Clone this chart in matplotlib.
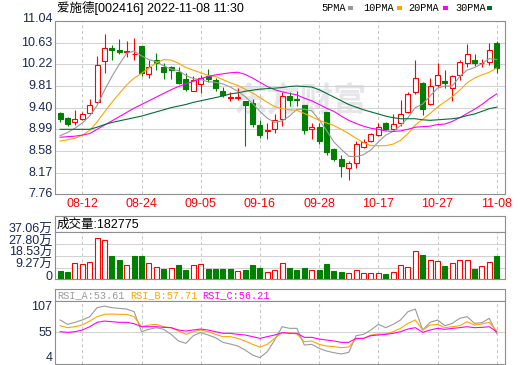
import matplotlib
matplotlib.use("Agg")
import matplotlib.pyplot as plt
import matplotlib.transforms as mtransforms
from matplotlib.patches import Rectangle
import numpy as np

plt.rcParams['font.family'] = ['Liberation Sans', 'Noto Sans CJK SC', 'DejaVu Sans']

# ---------------- data ----------------
title_text = '爱施德[002416] 2022-11-08 11:30'
vol_title = '成交量:182775'

dates = ['08-09', '08-10', '08-11', '08-12', '08-15', '08-16', '08-17', '08-18', '08-19', '08-22',
         '08-23', '08-24', '08-25', '08-26', '08-29', '08-30', '08-31', '09-01', '09-02', '09-05',
         '09-06', '09-07', '09-08', '09-09', '09-13', '09-14', '09-15', '09-16', '09-19', '09-20',
         '09-21', '09-22', '09-23', '09-26', '09-27', '09-28', '09-29', '09-30', '10-10', '10-11',
         '10-12', '10-13', '10-14', '10-17', '10-18', '10-19', '10-20', '10-21', '10-24', '10-25',
         '10-26', '10-27', '10-28', '10-31', '11-01', '11-02', '11-03', '11-04', '11-07', '11-08']
tick_dates = ['08-12', '08-24', '09-05', '09-16', '09-28', '10-17', '10-27', '11-08']

opens = [9.30, 9.20, 9.13, 9.19, 9.30, 9.50, 10.29, 10.52, 10.49, 10.455,
         10.42, 10.56, 10.04, 10.30, 10.17, 10.17, 10.08, 9.95, 9.72, 9.84,
         10.00, 9.92, 9.72, 9.585, 9.59, 9.52, 9.48, 9.08, 8.96, 9.00,
         9.18, 9.62, 9.56, 9.45, 9.00, 9.03, 9.31, 8.61, 8.42, 8.26,
         8.35, 8.65, 8.76, 8.89, 9.11, 9.00, 9.11, 9.32, 9.69, 9.86,
         9.47, 9.82, 9.90, 9.78, 10.01, 10.25, 10.31, 10.24, 10.27, 10.62]
highs = [9.31, 9.22, 9.36, 9.31, 9.57, 10.37, 10.80, 10.58, 10.70, 10.67,
         10.72, 10.56, 10.30, 10.44, 10.24, 10.19, 10.17, 10.05, 10.00, 10.02,
         10.14, 9.97, 9.80, 9.70, 9.77, 9.52, 9.56, 9.17, 9.11, 9.28,
         9.70, 9.70, 9.72, 9.45, 9.11, 9.11, 9.31, 8.64, 8.51, 8.39,
         8.76, 8.81, 8.92, 9.11, 9.13, 9.28, 9.55, 9.70, 10.30, 9.89,
         9.97, 10.25, 10.12, 10.02, 10.30, 10.60, 10.42, 10.32, 10.63, 10.67]
lows = [9.12, 9.06, 9.08, 9.17, 9.28, 9.48, 10.06, 10.31, 10.42, 10.35,
        10.30, 9.99, 9.97, 10.12, 9.95, 9.95, 9.85, 9.72, 9.71, 9.67,
        9.89, 9.72, 9.60, 9.53, 9.55, 8.67, 9.03, 8.83, 8.80, 8.92,
        9.06, 9.43, 9.43, 8.91, 8.80, 8.72, 8.51, 8.39, 8.095, 8.04,
        8.26, 8.64, 8.75, 8.86, 8.98, 8.97, 9.06, 9.30, 9.66, 9.27,
        9.45, 9.79, 9.77, 9.52, 9.93, 10.16, 10.19, 10.17, 10.20, 10.06]
closes = [9.19, 9.10, 9.18, 9.28, 9.45, 10.20, 10.52, 10.49, 10.45, 10.47,
          10.42, 10.05, 10.17, 10.25, 10.08, 10.12, 9.87, 9.75, 9.93, 9.97,
          9.95, 9.78, 9.63, 9.60, 9.61, 9.45, 9.10, 8.89, 8.97, 9.17,
          9.62, 9.55, 9.54, 8.97, 9.03, 8.76, 8.56, 8.42, 8.30, 8.35,
          8.72, 8.75, 8.90, 9.03, 8.99, 9.09, 9.28, 9.66, 9.97, 9.37,
          9.81, 10.02, 9.86, 10.00, 10.26, 10.42, 10.24, 10.25, 10.49, 10.15]

ma5 = [8.87, 8.93, 9.01, 9.11, 9.24, 9.44, 9.73, 9.99, 10.22, 10.43,
       10.47, 10.38, 10.31, 10.27, 10.19, 10.13, 10.10, 10.01, 9.95, 9.93,
       9.89, 9.88, 9.85, 9.79, 9.71, 9.61, 9.48, 9.33, 9.20, 9.12,
       9.15, 9.24, 9.37, 9.37, 9.34, 9.17, 8.97, 8.75, 8.61, 8.48,
       8.47, 8.51, 8.60, 8.75, 8.88, 8.95, 9.06, 9.21, 9.40, 9.47,
       9.62, 9.77, 9.81, 9.81, 9.99, 10.11, 10.16, 10.23, 10.33, 10.31]
ma10 = [8.77, 8.79, 8.82, 8.88, 8.97, 9.13, 9.32, 9.50, 9.67, 9.83,
        9.96, 10.05, 10.15, 10.25, 10.31, 10.30, 10.24, 10.16, 10.11, 10.06,
        10.01, 9.99, 9.93, 9.87, 9.82, 9.75, 9.68, 9.59, 9.50, 9.42,
        9.38, 9.36, 9.35, 9.29, 9.23, 9.16, 9.11, 9.06, 8.99, 8.91,
        8.82, 8.74, 8.68, 8.68, 8.68, 8.71, 8.78, 8.91, 9.07, 9.18,
        9.29, 9.41, 9.51, 9.61, 9.73, 9.87, 9.96, 10.02, 10.07, 10.15]
ma20 = [8.84, 8.85, 8.86, 8.88, 8.91, 8.99, 9.07, 9.15, 9.23, 9.31,
        9.39, 9.46, 9.53, 9.60, 9.67, 9.74, 9.80, 9.85, 9.90, 9.95,
        9.99, 10.02, 10.04, 10.06, 10.07, 10.03, 9.96, 9.88, 9.80, 9.74,
        9.70, 9.67, 9.64, 9.58, 9.53, 9.46, 9.39, 9.33, 9.24, 9.16,
        9.10, 9.05, 9.01, 8.99, 8.96, 8.95, 8.96, 8.99, 9.03, 9.04,
        9.05, 9.08, 9.09, 9.14, 9.21, 9.29, 9.37, 9.46, 9.57, 9.66]
ma30 = [8.99, 8.99, 8.99, 8.99, 8.99, 9.03, 9.08, 9.12, 9.15, 9.18,
        9.21, 9.24, 9.28, 9.32, 9.36, 9.40, 9.43, 9.46, 9.50, 9.53,
        9.56, 9.59, 9.62, 9.66, 9.68, 9.71, 9.73, 9.75, 9.76, 9.77,
        9.78, 9.80, 9.81, 9.80, 9.79, 9.74, 9.67, 9.60, 9.53, 9.46,
        9.41, 9.36, 9.32, 9.28, 9.24, 9.21, 9.19, 9.19, 9.19, 9.17,
        9.16, 9.17, 9.18, 9.19, 9.21, 9.25, 9.28, 9.33, 9.38, 9.41]

volumes = [6.3, 5.8, 13.1, 12.4, 13.9, 32.9, 31.3, 18.1, 15.0, 11.6,
           18.1, 18.1, 13.1, 9.7, 8.4, 9.2, 11.0, 7.1, 11.0, 11.8,
           8.4, 8.4, 8.4, 7.9, 6.8, 7.1, 11.0, 8.7, 5.8, 7.6,
           13.1, 9.2, 7.1, 9.2, 7.6, 7.6, 12.4, 6.8, 6.0, 5.3,
           7.4, 5.3, 5.3, 5.3, 4.5, 6.0, 11.6, 10.0, 22.3, 19.5,
           15.5, 14.7, 10.8, 13.1, 15.5, 15.5, 8.4, 10.8, 13.9, 18.28]

rsi_a = [75.6, 68.5, 71.8, 75.6, 81.0, 95.6, 98.3, 95.6, 94.5, 93.4,
         89.1, 56.6, 60.4, 63.1, 60.4, 52.2, 41.4, 37.6, 50.1, 55.0,
         51.2, 46.8, 39.2, 36.5, 33.3, 26.8, 18.6, 14.3, 24.1, 43.0,
         64.7, 62.0, 62.0, 34.9, 36.0, 29.5, 25.1, 22.4, 20.3, 23.0,
         50.1, 52.2, 59.3, 68.5, 63.1, 68.5, 75.6, 89.1, 93.4, 59.3,
         71.8, 75.6, 66.3, 70.1, 78.3, 81.0, 70.1, 71.2, 78.3, 53.61]
rsi_b = [66.3, 63.1, 64.7, 67.4, 73.9, 81.0, 84.8, 85.3, 84.8, 84.8,
         81.0, 64.7, 67.4, 68.5, 64.7, 63.1, 57.7, 52.2, 56.6, 59.3,
         56.6, 52.2, 48.5, 48.5, 45.7, 41.4, 36.0, 31.6, 36.0, 45.7,
         55.0, 55.0, 52.8, 40.3, 41.4, 36.0, 33.3, 32.2, 30.6, 31.6,
         44.7, 45.7, 51.2, 52.8, 52.8, 56.6, 62.0, 70.1, 75.6, 59.3,
         67.4, 68.5, 63.1, 64.7, 66.3, 72.8, 67.4, 69.1, 71.8, 57.71]
rsi_c = [56.6, 55.5, 56.6, 59.3, 64.7, 71.8, 73.9, 72.8, 71.8, 71.8,
         69.6, 64.7, 64.7, 64.7, 63.6, 63.1, 59.3, 57.7, 59.3, 60.9,
         59.3, 56.6, 53.9, 53.9, 52.2, 51.2, 48.5, 45.7, 48.5, 51.2,
         55.0, 53.9, 53.9, 47.4, 47.4, 44.7, 43.0, 41.4, 39.2, 39.2,
         45.7, 45.7, 50.1, 51.2, 52.2, 53.9, 56.6, 60.9, 63.1, 55.5,
         59.3, 62.0, 60.4, 62.0, 63.1, 64.7, 63.1, 63.6, 64.7, 56.21]

price_ticks = [7.76, 8.17, 8.58, 8.99, 9.40, 9.81, 10.22, 10.63, 11.04]
vol_ticks = [0, 9.27, 18.53, 27.80, 37.06]
vol_tick_labels = ['0', '9.27万', '18.53万', '27.80万', '37.06万']
rsi_ticks = [4, 55.5, 107]
rsi_tick_labels = ['4', '55', '107']

ma_names = ['5PMA', '10PMA', '20PMA', '30PMA']
rsi_names = ['RSI_A', 'RSI_B', 'RSI_C']

# ---------------- styling ----------------
RED = '#ff0000'
GREEN = '#008000'
FRAME = '#8e8e8e'
GRID = '#d2d2d2'
VGRID = '#c8c8c8'
LABEL = '#1b2753'
MA_COLORS = ['#9a9a9a', '#ffa500', '#ff00ff', '#006f32']
RSI_COLORS = ['#9a9a9a', '#ffa500', '#ff00ff']

W, H = 520, 365
fig = plt.figure(figsize=(W / 100, H / 100), dpi=100)
fig.patch.set_facecolor('white')


def rect(l, t, r, b):
    return [l / W, 1 - b / H, (r - l) / W, (b - t) / H]


n = len(dates)
x = np.arange(n)
tick_pos = [dates.index(d) for d in tick_dates]
XLIM = (-0.69, 60.12)

o = np.array(opens); c = np.array(closes); hi = np.array(highs); lo = np.array(lows)
up = c >= o
candle_cols = [RED if u else GREEN for u in up]
candle_face = ['white' if u else GREEN for u in up]
prev = np.concatenate([[o[0]], c[:-1]])
vol_up = c >= prev
vol_cols = [RED if u else GREEN for u in vol_up]
vol_face = ['white' if u else GREEN for u in vol_up]


def frame(ax):
    ax.set_xlim(*XLIM)
    for s in ax.spines.values():
        s.set_color(FRAME)
        s.set_linewidth(0.8)
    ax.set_xticks(tick_pos)
    ax.tick_params(length=0, labelleft=False, labelbottom=False)
    ax.set_axisbelow(True)


def vgrid(ax):
    ax.grid(axis='x', color=VGRID, linestyle=(0, (3, 2.5)), linewidth=0.75)


def ylabel(ax, val, txt, dy=0.0, size=9):
    tr = mtransforms.blended_transform_factory(ax.transAxes, ax.transData) + \
        mtransforms.ScaledTranslation(-2.6 / 100, dy / 100, fig.dpi_scale_trans)
    ax.text(0, val, txt, transform=tr, ha='right', va='center', color=LABEL,
            fontsize=size, clip_on=False)


# ---------------- main candle panel ----------------
ax = fig.add_axes(rect(55, 21, 505, 194.3))
frame(ax)
vgrid(ax)
ax.set_ylim(price_ticks[0], price_ticks[-1])
ax.set_yticks(price_ticks)
ax.grid(axis='y', color=GRID, linestyle='-', linewidth=0.75)
ax.set_xticks(tick_pos, tick_dates)
ax.tick_params(axis='x', labelbottom=True, labelcolor=RED, labelsize=9, pad=2.6)
for i, v in enumerate(price_ticks):
    ylabel(ax, v, f'{v:.2f}', dy=2.5 if i == len(price_ticks) - 1 else 0)

ax.text(0.545, 0.53, '东方财富', transform=ax.transAxes, ha='center', va='center',
        fontsize=24, color='#e6e6ea', fontweight='bold', zorder=0.5,
        family=['Noto Sans CJK SC'])

ax.vlines(x, lo, hi, colors=candle_cols, linewidth=0.8, zorder=2)
body_lo = np.minimum(o, c)
body_h = np.maximum(np.abs(c - o), 0.004)
ax.bar(x, body_h, bottom=body_lo, width=0.66, color=candle_face,
       edgecolor=candle_cols, linewidth=0.8, zorder=3)
for ma, col in zip([ma5, ma10, ma20, ma30], MA_COLORS):
    ax.plot(x, ma, color=col, linewidth=0.8, zorder=4)

# ---------------- volume panel ----------------
axvt = fig.add_axes(rect(55, 215.7, 505, 232.3))
frame(axvt)
axvt.set_xticks([])
axvt.set_yticks([])
axvt.text(2 / 450, 0.45, vol_title, transform=axvt.transAxes, ha='left', va='center',
          fontsize=9, color='black')

axv = fig.add_axes(rect(55, 232.3, 505, 279.3))
frame(axv)
vgrid(axv)
axv.set_ylim(vol_ticks[0], vol_ticks[-1])
axv.set_yticks(vol_ticks)
axv.grid(axis='y', color=GRID, linestyle='-', linewidth=0.75)
axv.bar(x, volumes, width=0.66, color=vol_face, edgecolor=vol_cols, linewidth=0.8, zorder=3)
for v, t in zip(vol_ticks, vol_tick_labels):
    ylabel(axv, v, t, dy=2.5)

# ---------------- RSI panel ----------------
axrt = fig.add_axes(rect(55, 289, 505, 300.7))
frame(axrt)
axrt.set_xticks([])
axrt.set_yticks([])
rsi_last = [rsi_a[-1], rsi_b[-1], rsi_c[-1]]
for name, val, col, px in zip(rsi_names, rsi_last, RSI_COLORS, [57.3, 130, 202.3]):
    fig.text(px / W, 1 - 295.3 / H, f'{name}:{val:.2f}', ha='left', va='center',
             color=col, fontsize=7.4, family=['Liberation Mono'])

axr = fig.add_axes(rect(55, 300.7, 505, 364))
frame(axr)
vgrid(axr)
axr.set_ylim(rsi_ticks[0], rsi_ticks[-1])
axr.set_yticks([rsi_ticks[1]])
axr.grid(axis='y', color=GRID, linestyle='-', linewidth=0.75)
for series, col in zip([rsi_a, rsi_b, rsi_c], RSI_COLORS):
    axr.plot(x, series, color=col, linewidth=0.8, zorder=3)
for v, t, dy in zip(rsi_ticks, rsi_tick_labels, [5.7, -1.0, -6.0]):
    ylabel(axr, v, t, dy=dy)

# ---------------- header texts ----------------
fig.text(57 / W, 1 - 8 / H, title_text, ha='left', va='center', fontsize=9, color='black')
for name, col, tx, sx in zip(ma_names, MA_COLORS, [321.7, 363, 408.3, 455],
                             [348, 396.7, 442.7, 487.3]):
    fig.text(tx / W, 1 - 8 / H, name, ha='left', va='center', fontsize=7.4,
             color='black', family=['Liberation Mono'])
    fig.add_artist(Rectangle((sx / W, 1 - 10 / H), 5 / W, 4 / H,
                             transform=fig.transFigure, facecolor=col, edgecolor='none'))

fig.savefig('out.png', dpi=100, facecolor='white')
